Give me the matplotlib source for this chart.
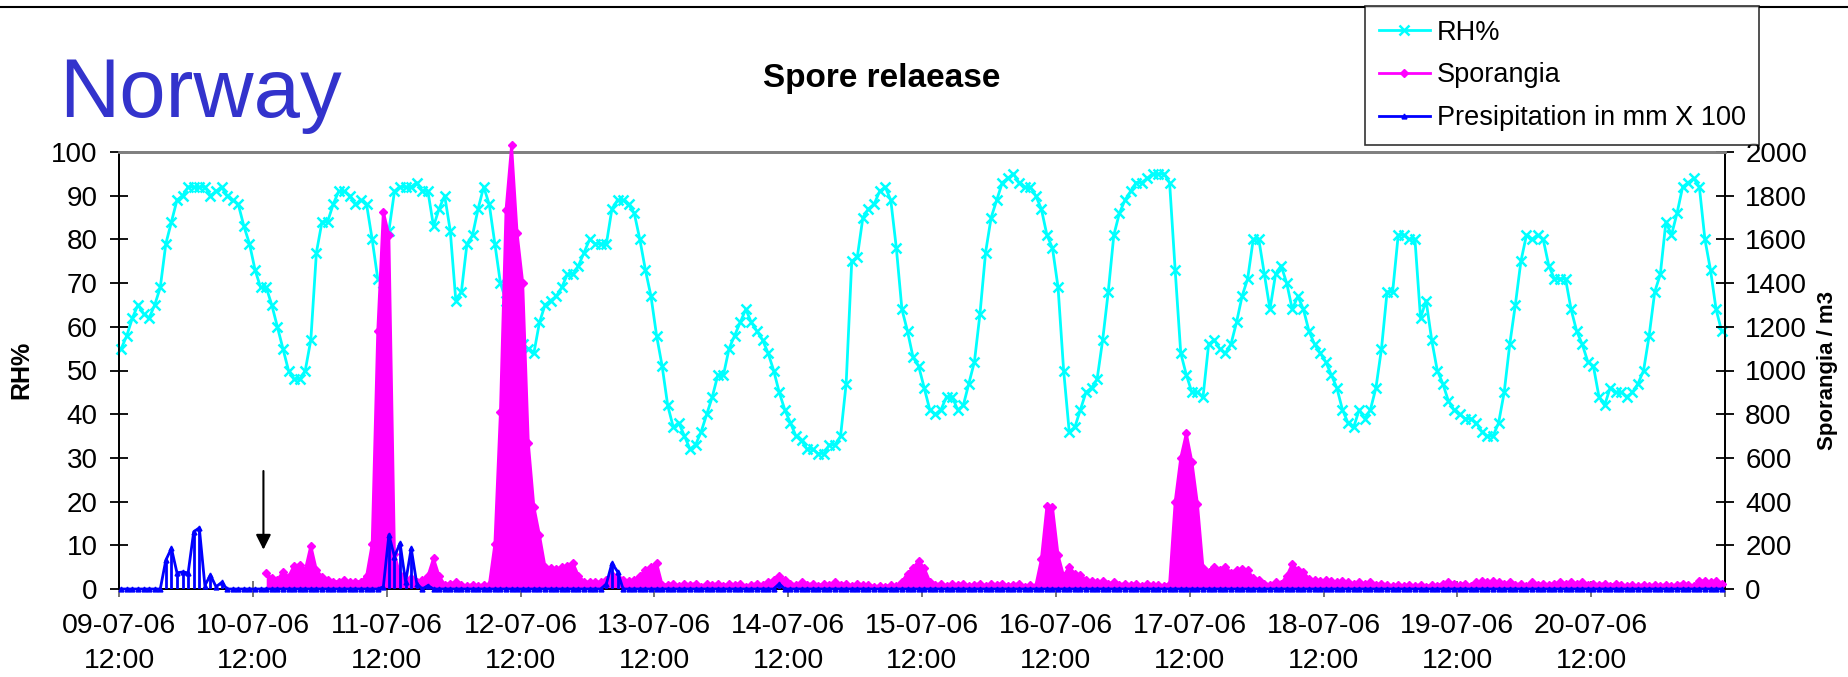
import numpy as np
import matplotlib
matplotlib.use("Agg")
import matplotlib.pyplot as plt
from matplotlib.lines import Line2D

plt.rcParams['font.family'] = ['Liberation Sans', 'DejaVu Sans']

# ---------------- data (hourly, starting 09-07-06 12:00) ----------------
rh = [55, 58, 62, 65, 63, 62, 65, 69, 79, 84, 89, 90, 92, 92, 92, 92, 90, 91, 92, 90,
      89, 88, 83, 79, 73, 69, 69, 65, 60, 55, 50, 48, 48, 50, 57, 77, 84, 84, 88, 91,
      91, 90, 88, 89, 88, 80, 71, 70, 82, 91, 92, 92, 92, 93, 91, 91, 83, 87, 90, 82,
      66, 68, 79, 81, 87, 92, 88, 79, 70, 66, 58, 55, 56, 55, 54, 61, 65, 66, 67, 69,
      72, 72, 74, 77, 80, 79, 79, 79, 87, 89, 89, 88, 86, 80, 73, 67, 58, 51, 42, 37,
      38, 35, 32, 33, 36, 40, 44, 49, 49, 55, 58, 61, 64, 61, 59, 57, 54, 50, 45, 41,
      38, 35, 34, 32, 32, 31, 31, 33, 33, 35, 47, 75, 76, 85, 87, 88, 91, 92, 89, 78,
      64, 59, 53, 51, 46, 41, 40, 41, 44, 44, 41, 42, 47, 52, 63, 77, 85, 89, 93, 94,
      95, 93, 92, 92, 90, 87, 81, 78, 69, 50, 36, 37, 41, 45, 46, 48, 57, 68, 81, 86,
      89, 91, 93, 93, 94, 95, 95, 95, 93, 73, 54, 49, 45, 45, 44, 56, 57, 55, 54, 56,
      61, 67, 71, 80, 80, 72, 64, 72, 74, 70, 64, 67, 64, 59, 56, 54, 52, 49, 46, 41,
      38, 37, 41, 39, 41, 46, 55, 68, 68, 81, 81, 80, 80, 62, 66, 57, 50, 47, 43, 41,
      40, 39, 39, 38, 36, 35, 35, 38, 45, 56, 65, 75, 81, 80, 81, 80, 74, 71, 71, 71,
      64, 59, 56, 52, 51, 44, 42, 46, 45, 45, 44, 45, 47, 50, 58, 68, 72, 84, 81, 86,
      92, 93, 94, 92, 80, 73, 64, 59]

sporangia = [None] * 26 + [
      72, 50, 41, 79, 56, 107, 110, 87, 198, 87, 56, 41, 34, 34,
      41, 30, 34, 34, 60, 206, 1180, 1727, 1620, 160, 64, 34, 52, 30, 40, 60,
      140, 60, 20, 25, 30, 20, 15, 20, 15, 20, 20, 205, 812, 1735, 2030, 1628, 1402, 670, 377, 247,
      102, 96, 90, 100, 105, 119, 60, 34, 30, 34, 30, 40, 66, 50, 40, 35, 40, 60, 87, 100,
      119, 20, 20, 25, 15, 25, 20, 25, 10, 25, 20, 25, 15, 25, 20, 25, 10, 20, 25, 20,
      30, 40, 60, 40, 25, 20, 30, 20, 25, 15, 25, 20, 30, 20, 25, 15, 25, 20, 20, 10,
      15, 10, 20, 15, 34, 70, 96, 128, 96, 34, 20, 25, 15, 25, 20, 25, 15, 20, 25, 15,
      25, 20, 25, 15, 20, 25, 10, 20, 15, 136, 380, 375, 156, 60, 102, 70, 64, 41, 35, 30,
      35, 25, 30, 20, 25, 20, 25, 15, 25, 20, 20, 15, 25, 400, 600, 712, 583, 389, 95, 80,
      100, 85, 100, 75, 87, 90, 85, 50, 41, 25, 20, 30, 25, 60, 113, 87, 78, 46, 40, 35,
      40, 35, 30, 35, 30, 25, 30, 25, 30, 20, 25, 20, 15, 20, 15, 20, 15, 20, 10, 20,
      15, 25, 30, 25, 20, 25, 15, 30, 35, 30, 38, 30, 25, 30, 20, 25, 15, 30, 20, 25,
      20, 25, 30, 25, 30, 25, 30, 20, 25, 20, 25, 15, 25, 20, 15, 20, 15, 20, 15, 20,
      15, 20, 15, 20, 25, 20, 15, 35, 38, 30, 35, 25]

precip_hours = [8, 9, 10, 11, 12, 13, 14, 15, 16, 17, 18,
                47, 48, 49, 50, 51, 52, 53, 55, 87, 88, 89, 118]
precip_mm_x100 = [6.6, 9.3, 3.7, 3.9, 3.7, 13.1, 14.0, 0.8, 3.2, 0.5, 1.5,
                  0.5, 12.4, 7.4, 10.5, 1.6, 9.3, 1.2, 0.8, 1.2, 5.9, 4.0, 1.2]

day_labels = ['09-07-06', '10-07-06', '11-07-06', '12-07-06', '13-07-06', '14-07-06',
              '15-07-06', '16-07-06', '17-07-06', '18-07-06', '19-07-06', '20-07-06']
time_label = '12:00'
arrow_hour = 26
# ------------------------------------------------------------------------

n = len(rh)
first_offset = 0.4          # first reading a few minutes after 12:00
x = np.arange(n) + first_offset
spor = np.array([np.nan if v is None else v for v in sporangia], dtype=float)
precip = np.zeros(n)
precip[precip_hours] = precip_mm_x100

W, H = 1848, 677
fig = plt.figure(figsize=(W / 100, H / 100), dpi=100)
L, R, T, B = 119, 1725, 152, 589
ax = fig.add_axes([L / W, 1 - B / H, (R - L) / W, (B - T) / H])
ax2 = ax.twinx()

cyan, magenta, blue = '#00FFFF', '#FF00FF', '#0000FF'

ax.set_xlim(0, 24 * len(day_labels))
ax.set_ylim(0, 100)
ax2.set_ylim(0, 2000)
scale = 2000 / 100  # left-axis units to right-axis units

ax.plot(x, rh, color=cyan, lw=2, marker='x', ms=7, mew=1.8, zorder=3, clip_on=False)

ax2.fill_between(x, 0, spor, color=magenta, lw=0, zorder=2, clip_on=False)
ax2.plot(x, spor, color=magenta, lw=2, marker='D', ms=4, zorder=3, clip_on=False)

pmask = precip > 0
ax2.vlines(x[pmask], 0, precip[pmask] * scale, color=blue, lw=2, zorder=4)
ax2.plot(x, precip * scale, color=blue, lw=2, marker='^', ms=3.5, zorder=5, clip_on=False)

# arrow
ax.annotate('', xy=(x[arrow_hour] - 0.5, 9), xytext=(x[arrow_hour] - 0.5, 27),
            arrowprops=dict(arrowstyle='-|>,head_length=0.9,head_width=0.45',
                            color='black', lw=1.5, shrinkA=0, shrinkB=0))

# ticks
ticks = np.arange(0, 24 * len(day_labels) + 1, 24)
ax.set_xticks(ticks)
ax.set_xticklabels([f'{d}\n{time_label}' for d in day_labels] + [''])
ax.set_yticks(np.arange(0, 101, 10))
ax2.set_yticks(np.arange(0, 2001, 200))

ax.tick_params(axis='x', direction='inout', length=12, width=1.2, labelsize=20.5,
               pad=11, color='#606060')
ax.tick_params(axis='y', direction='inout', length=13, width=1.3, labelsize=20, pad=9)
ax2.tick_params(axis='y', direction='inout', length=13, width=1.3, labelsize=20, pad=8)
for lab in ax.get_xticklabels():
    lab.set_linespacing(1.45)

for a in (ax, ax2):
    a.spines['top'].set_color('#808080')
    a.spines['top'].set_linewidth(2)
    a.spines['left'].set_linewidth(1.3)
    a.spines['right'].set_linewidth(1.3)
    a.spines['bottom'].set_linewidth(1.3)

# axis titles
fig.text(21 / W, 1 - 370 / H, 'RH%', fontsize=18, fontweight='bold',
         rotation=90, ha='center', va='center')
fig.text(1828 / W, 1 - 370 / H, 'Sporangia / m3', fontsize=16, fontweight='bold',
         rotation=90, ha='center', va='center')

fig.text(59 / W, 1 - 117 / H, 'Norway', fontsize=60, color='#3333CC',
         ha='left', va='baseline')
fig.text(882 / W, 1 - 79 / H, 'Spore relaease', fontsize=24, fontweight='bold',
         ha='center', va='center')

# frame line at top of slide
fig.add_artist(Line2D([0, 1], [1 - 7 / H, 1 - 7 / H], color='black', lw=1.5,
                      transform=fig.transFigure))

handles = [Line2D([], [], color=cyan, lw=2, marker='x', ms=7, mew=1.8),
           Line2D([], [], color=magenta, lw=2, marker='D', ms=4),
           Line2D([], [], color=blue, lw=2, marker='^', ms=3.5)]
leg = fig.legend(handles, ['RH%', 'Sporangia', 'Presipitation in mm X 100'],
                 loc='upper left', bbox_to_anchor=(1365 / W, 1 - 6 / H),
                 fontsize=19.5, frameon=True, fancybox=False, edgecolor='black',
                 borderaxespad=0, handlelength=1.9, handletextpad=0.25,
                 labelspacing=0.62, borderpad=0.5)
leg.get_frame().set_linewidth(1.2)

fig.savefig('out.png', dpi=100)
